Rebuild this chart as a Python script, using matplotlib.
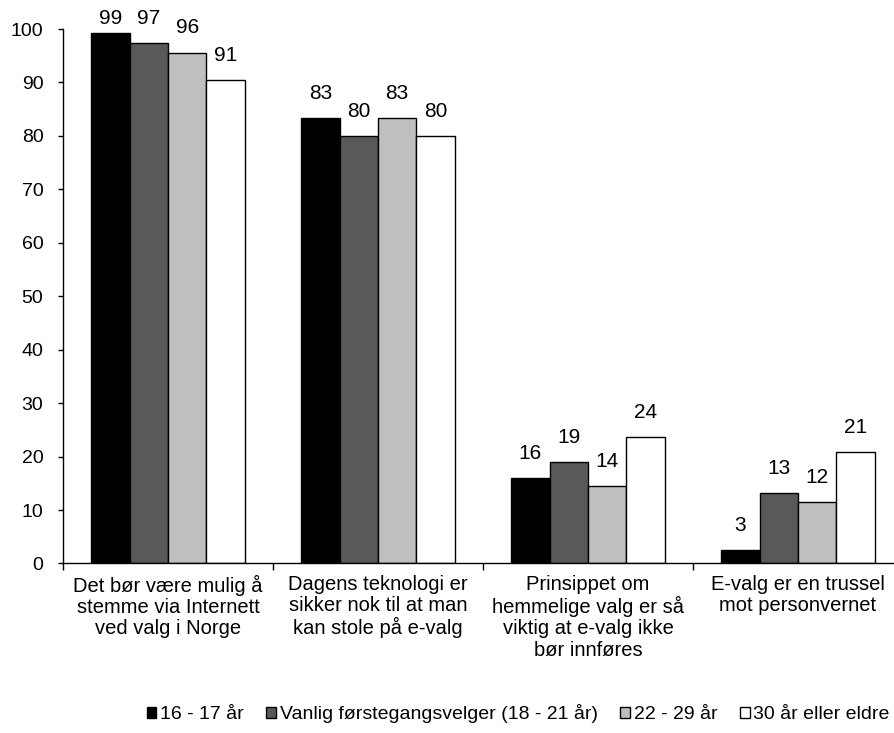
import numpy as np
import matplotlib.pyplot as plt
from matplotlib.patches import Patch

plt.rcParams["font.family"] = ["Liberation Sans", "DejaVu Sans"]
plt.rcParams["font.size"] = 15

categories = [
    "Det bør være mulig å\nstemme via Internett\nved valg i Norge",
    "Dagens teknologi er\nsikker nok til at man\nkan stole på e-valg",
    "Prinsippet om\nhemmelige valg er så\nviktig at e-valg ikke\nbør innføres",
    "E-valg er en trussel\nmot personvernet",
]
series_names = ["16 - 17 år", "Vanlig førstegangsvelger (18 - 21 år)", "22 - 29 år", "30 år eller eldre"]
values = [
    [99.3, 83.4, 15.9, 2.5],
    [97.3, 79.9, 19.0, 13.1],
    [95.6, 83.4, 14.4, 11.5],
    [90.5, 79.9, 23.7, 20.9],
]
labels = [
    [99, 83, 16, 3],
    [97, 80, 19, 13],
    [96, 83, 14, 12],
    [91, 80, 24, 21],
]
colors = ["#000000", "#595959", "#bfbfbf", "#ffffff"]

fig = plt.figure(figsize=(8.95, 7.33), dpi=100)
ax = fig.add_axes([0.0704, 0.2313, 0.9385, 0.7291])

x = np.arange(len(categories))
w = 0.1825
for i, (vals, labs) in enumerate(zip(values, labels)):
    pos = x + (i - 1.5) * w
    bars = ax.bar(pos, vals, w, color=colors[i], edgecolor="black", linewidth=1.0)
    for b, lab in zip(bars, labs):
        ax.text(b.get_x() + b.get_width() / 2, min(b.get_height() + 3.6, 100.9), str(lab),
                ha="center", va="baseline", fontsize=15, clip_on=False)

ax.set_xlim(-0.5, len(categories) - 0.5)
ax.set_ylim(0, 100)
ax.set_yticks(range(0, 101, 10))
ax.set_xticks(np.arange(-0.5, len(categories), 1.0))
ax.set_xticklabels([])
ax.set_xticks(x, minor=True)
ax.set_xticklabels(categories, minor=True, fontsize=14.5, linespacing=1.15, va="top")
ax.tick_params(axis="x", which="minor", length=0, pad=8)
ax.tick_params(axis="x", which="major", length=5, width=1.0, direction="out")
ax.tick_params(axis="y", length=3.6, width=1.0, direction="out", labelsize=14, pad=10.5)
for s in ["top", "right"]:
    ax.spines[s].set_visible(False)
for s in ["left", "bottom"]:
    ax.spines[s].set_linewidth(1.0)

handles = [Patch(facecolor=c, edgecolor="black", linewidth=1.0) for c in colors]
fig.legend(handles, series_names, loc="center", bbox_to_anchor=(0.579, 0.026), ncol=4,
           frameon=False, handlelength=0.5, handleheight=0.5, handletextpad=0.2,
           columnspacing=1.15, fontsize=14, borderpad=0, borderaxespad=0)

fig.savefig("out.png", dpi=100)
